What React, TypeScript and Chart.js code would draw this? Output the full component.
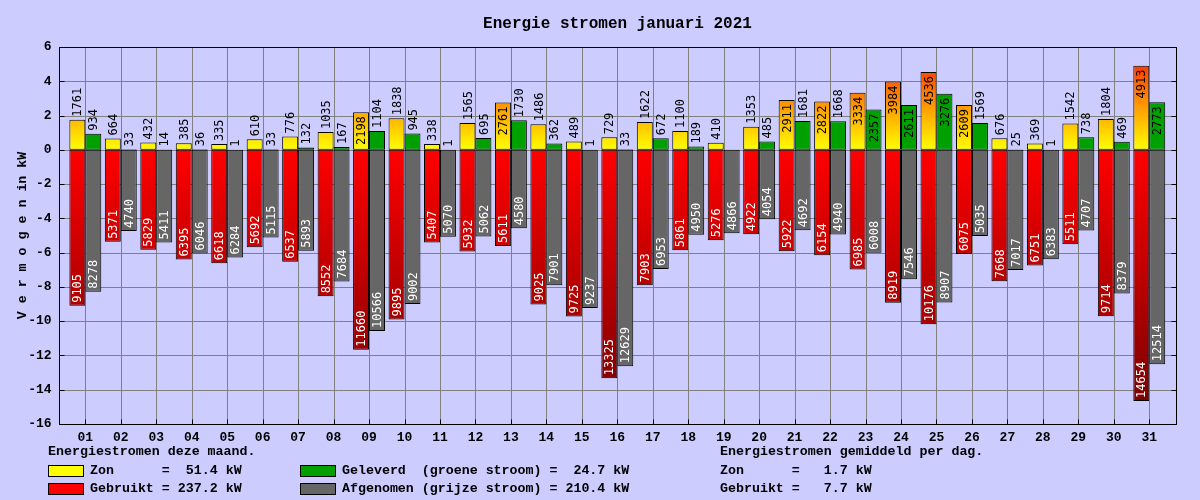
import React, { useEffect, useRef } from "react";
import { Chart, registerables } from "chart.js";

Chart.register(...registerables);

const DAYS = ["01","02","03","04","05","06","07","08","09","10","11","12","13","14","15","16","17","18","19","20","21","22","23","24","25","26","27","28","29","30","31"];
const ZON = [1761,664,432,385,335,610,776,1035,2198,1838,338,1565,2761,1486,489,729,1622,1100,410,1353,2911,2822,3334,3984,4536,2609,676,369,1542,1804,4913];
const GELEVERD = [934,33,14,36,1,33,132,167,1104,945,1,695,1730,362,1,33,672,189,0,485,1681,1668,2357,2611,3276,1569,25,1,738,469,2773];
const GEBRUIKT = [9105,5371,5829,6395,6618,5692,6537,8552,11660,9895,5407,5932,5611,9025,9725,13325,7903,5861,5276,4922,5922,6154,6985,8919,10176,6075,7668,6751,5511,9714,14654];
const AFGENOMEN = [8278,4740,5411,6046,6284,5115,5893,7684,10566,9002,5070,5062,4580,7901,9237,12629,6953,4950,4866,4054,4692,4940,6008,7546,8907,5035,7017,6383,4707,8379,12514];

const Y_MIN = -16;
const Y_MAX = 6;
const Y_STEP = 2;
const TITLE = "Energie stromen januari 2021";
const Y_TITLE = "V e r m o g e n in kW";
const HEAD_MONTH = "Energiestromen deze maand.";
const HEAD_DAY = "Energiestromen gemiddeld per dag.";

const BG = "#CCCCFF";
const GRID = "#808080";
const GREEN = "#00A000";
const GRAY = "#666666";
const MONO = "'Courier New', 'Liberation Mono', monospace";
const LABEL_FONT = "12px 'DejaVu Sans Mono', monospace";
const FRAME_PAD_L = 8.3;
const FRAME_PAD_R = 8.7;

const sum = (a: number[]) => a.reduce((s, v) => s + v, 0);
const fmt = (v: number) => (v / 1000).toFixed(1).padStart(5, " ");

export default function App() {
  const ref = useRef<HTMLCanvasElement | null>(null);

  useEffect(() => {
    const canvas = ref.current;
    if (!canvas) return;

    const zonGrad = (c: any) => {
      const chart = c.chart;
      const y = chart.scales?.y;
      if (!chart.chartArea || !y) return "#FFFF00";
      const g = chart.ctx.createLinearGradient(0, y.getPixelForValue(0), 0, y.getPixelForValue(6.4));
      g.addColorStop(0, "#FFFF00");
      g.addColorStop(1, "#FF0000");
      return g;
    };
    const redGrad = (c: any) => {
      const chart = c.chart;
      const y = chart.scales?.y;
      if (!chart.chartArea || !y) return "#FF0000";
      const g = chart.ctx.createLinearGradient(0, y.getPixelForValue(0), 0, y.getPixelForValue(-16));
      g.addColorStop(0, "#FF0000");
      g.addColorStop(1, "#700000");
      return g;
    };

    const deco = {
      id: "deco",
      beforeDraw(chart: any) {
        const ctx = chart.ctx;
        ctx.save();
        ctx.fillStyle = BG;
        ctx.fillRect(0, 0, chart.width, chart.height);
        ctx.restore();
      },
      beforeDatasetsDraw(chart: any) {
        const { ctx, chartArea, scales } = chart;
        const fl = chartArea.left - FRAME_PAD_L;
        const fr = chartArea.right + FRAME_PAD_R;
        ctx.save();
        ctx.strokeStyle = GRID;
        ctx.lineWidth = 1;
        ctx.beginPath();
        for (let v = Y_MIN; v <= Y_MAX; v += Y_STEP) {
          const py = Math.round(scales.y.getPixelForValue(v)) + 0.5;
          ctx.moveTo(fl, py);
          ctx.lineTo(fr, py);
        }
        for (let i = 0; i < DAYS.length; i++) {
          const px = Math.round(scales.x.getPixelForValue(i)) + 0.5;
          ctx.moveTo(px, chartArea.top);
          ctx.lineTo(px, chartArea.bottom);
        }
        ctx.stroke();
        ctx.restore();
      },
      afterDatasetsDraw(chart: any) {
        const { ctx, chartArea, scales } = chart;
        const fl = Math.round(chartArea.left - FRAME_PAD_L) + 0.5;
        const fr = Math.round(chartArea.right + FRAME_PAD_R) + 0.5;
        const ft = Math.round(chartArea.top) + 0.5;
        const fb = Math.round(chartArea.bottom) + 0.5;
        ctx.save();
        // frame
        ctx.strokeStyle = "#000";
        ctx.lineWidth = 1;
        ctx.strokeRect(fl, ft, fr - fl, fb - ft);
        // inward ticks
        ctx.beginPath();
        for (let v = Y_MIN; v <= Y_MAX; v += Y_STEP) {
          const py = Math.round(scales.y.getPixelForValue(v)) + 0.5;
          ctx.moveTo(fl, py);
          ctx.lineTo(fl + 5, py);
          ctx.moveTo(fr, py);
          ctx.lineTo(fr - 5, py);
        }
        for (let i = 0; i < DAYS.length; i++) {
          const px = Math.round(scales.x.getPixelForValue(i)) + 0.5;
          ctx.moveTo(px, fb);
          ctx.lineTo(px, fb - 5);
        }
        ctx.stroke();

        // value labels
        ctx.font = LABEL_FONT;
        ctx.textBaseline = "middle";
        const sources = [ZON, GEBRUIKT, GELEVERD, AFGENOMEN];
        chart.data.datasets.forEach((ds: any, di: number) => {
          const meta = chart.getDatasetMeta(di);
          const raw = sources[di];
          meta.data.forEach((el: any, i: number) => {
            const v = raw[i];
            if (!v) return;
            const txt = String(v);
            const w = ctx.measureText(txt).width;
            const h = Math.abs(el.base - el.y);
            ctx.save();
            ctx.translate(el.x + 1, 0);
            if (di === 0 || di === 2) {
              ctx.fillStyle = "#000";
              if (h >= w + 8) {
                ctx.translate(0, el.y + 4);
                ctx.rotate(-Math.PI / 2);
                ctx.textAlign = "right";
              } else {
                ctx.translate(0, el.y - 3);
                ctx.rotate(-Math.PI / 2);
                ctx.textAlign = "left";
              }
            } else {
              ctx.fillStyle = "#FFFFFF";
              ctx.translate(0, el.y - 3);
              ctx.rotate(-Math.PI / 2);
              ctx.textAlign = "left";
            }
            ctx.fillText(txt, 0, 0);
            ctx.restore();
          });
        });
        ctx.restore();
      },
      afterDraw(chart: any) {
        const { ctx, chartArea } = chart;
        const fl = chartArea.left - FRAME_PAD_L;
        const fr = chartArea.right + FRAME_PAD_R;
        ctx.save();
        ctx.fillStyle = "#000";
        ctx.textBaseline = "middle";
        // title
        ctx.font = `bold 16px ${MONO}`;
        ctx.textAlign = "center";
        ctx.fillText(TITLE, (fl + fr) / 2, 24);
        // y title
        ctx.font = `bold 13.3px ${MONO}`;
        ctx.save();
        ctx.translate(23, (chartArea.top + chartArea.bottom) / 2);
        ctx.rotate(-Math.PI / 2);
        ctx.fillText(Y_TITLE, 0, 0);
        ctx.restore();

        // legend block
        ctx.textAlign = "left";
        const n = DAYS.length;
        const zonT = sum(ZON), gebT = sum(GEBRUIKT), gelT = sum(GELEVERD), afgT = sum(AFGENOMEN);
        ctx.fillText(HEAD_MONTH, 48, 452);
        ctx.fillText(HEAD_DAY, 720, 452);
        const sw = (x: number, y: number, col: string) => {
          ctx.fillStyle = col;
          ctx.fillRect(x, y, 35, 11);
          ctx.strokeStyle = "#000";
          ctx.lineWidth = 1;
          ctx.strokeRect(x + 0.5, y + 0.5, 35, 11);
          ctx.fillStyle = "#000";
        };
        sw(48, 465, "#FFFF00");
        sw(48, 483, "#FF0000");
        sw(300, 465, GREEN);
        sw(300, 483, GRAY);
        ctx.fillText(`Zon      = ${fmt(zonT)} kW`, 90, 471);
        ctx.fillText(`Gebruikt = ${fmt(gebT)} kW`, 90, 489);
        ctx.fillText(`Geleverd  (groene stroom) = ${fmt(gelT)} kW`, 342, 471);
        ctx.fillText(`Afgenomen (grijze stroom) = ${fmt(afgT)} kW`, 342, 489);
        ctx.fillText(`Zon      = ${fmt(zonT / n)} kW`, 720, 471);
        ctx.fillText(`Gebruikt = ${fmt(gebT / n)} kW`, 720, 489);
        ctx.restore();
      },
    };

    const common = {
      borderWidth: 1,
      borderColor: "#000000",
      borderSkipped: false,
      categoryPercentage: 0.9,
      barPercentage: 1.0,
    };
    const tickFont = { family: MONO, size: 13, weight: "bold" as const };

    const chart = new Chart(canvas, {
      type: "bar",
      data: {
        labels: DAYS,
        datasets: [
          { label: "Zon", data: ZON.map((v) => v / 1000), stack: "s1", backgroundColor: zonGrad, ...common },
          { label: "Gebruikt", data: GEBRUIKT.map((v) => -v / 1000), stack: "s1", backgroundColor: redGrad, ...common },
          { label: "Geleverd", data: GELEVERD.map((v) => v / 1000), stack: "s2", backgroundColor: GREEN, ...common },
          { label: "Afgenomen", data: AFGENOMEN.map((v) => -v / 1000), stack: "s2", backgroundColor: GRAY, ...common },
        ] as any,
      },
      options: {
        responsive: false,
        animation: false,
        devicePixelRatio: 1,
        layout: { padding: { top: 47, right: 33, left: 0, bottom: 0 } },
        plugins: {
          legend: { display: false },
          title: { display: false },
          tooltip: { enabled: false },
        },
        scales: {
          x: {
            stacked: true,
            grid: { display: false, drawTicks: false },
            border: { display: false },
            ticks: { font: tickFont, color: "#000", padding: 6, maxRotation: 0, autoSkip: false },
            afterFit: (s: any) => { s.height = 76; },
          },
          y: {
            stacked: true,
            min: Y_MIN,
            max: Y_MAX,
            grid: { display: false, drawTicks: false },
            border: { display: false },
            ticks: { stepSize: Y_STEP, font: tickFont, color: "#000", padding: 16 },
            afterFit: (s: any) => { s.width = 67.6; },
          },
        },
      } as any,
      plugins: [deco],
    });

    return () => chart.destroy();
  }, []);

  return (
    <div style={{ position: "fixed", left: 0, top: 0, width: 1200, height: 500, background: BG }}>
      <canvas ref={ref} width={1200} height={500} style={{ display: "block", width: 1200, height: 500 }} />
    </div>
  );
}
